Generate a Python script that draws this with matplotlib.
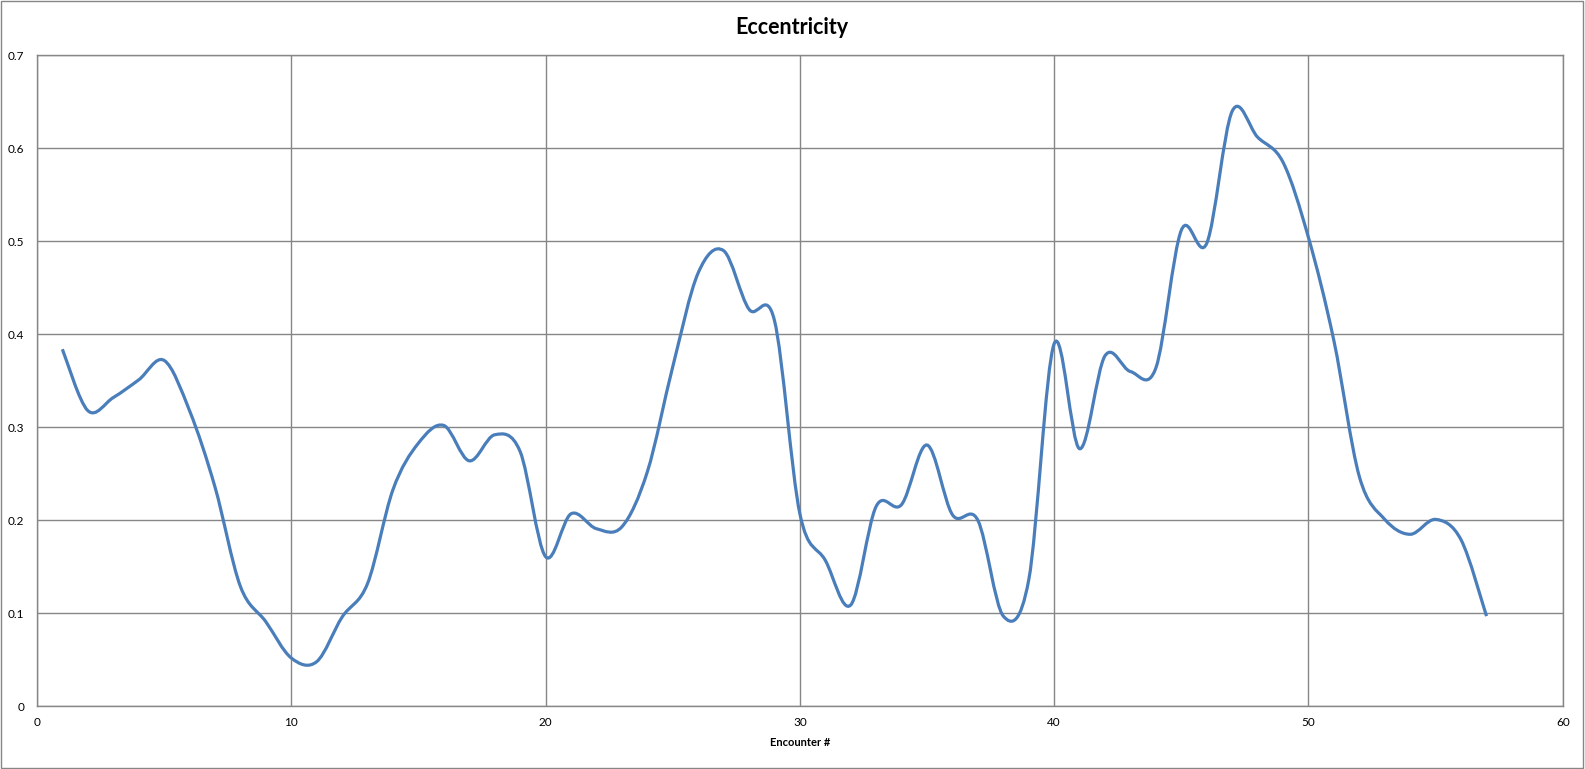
import numpy as np
import matplotlib.pyplot as plt
from matplotlib.path import Path
from matplotlib.patches import PathPatch, Rectangle

plt.rcParams['font.family'] = ['Lato', 'DejaVu Sans']

# encounter number and eccentricity
encounter = list(range(1, 58))
eccentricity = [
    0.384, 0.318, 0.332, 0.351, 0.372, 0.318, 0.236, 0.129, 0.091, 0.052,
    0.048, 0.096, 0.132, 0.233, 0.283, 0.302, 0.264, 0.292, 0.274, 0.161,
    0.207, 0.191, 0.193, 0.252, 0.365, 0.466, 0.490, 0.427, 0.415, 0.207,
    0.157, 0.109, 0.215, 0.217, 0.281, 0.206, 0.200, 0.097, 0.136, 0.390,
    0.277, 0.377, 0.360, 0.364, 0.512, 0.498, 0.640, 0.612, 0.585, 0.504,
    0.393, 0.247, 0.201, 0.185, 0.201, 0.179, 0.097,
]
x_ticks = [0, 10, 20, 30, 40, 50, 60]
y_ticks = [0, 0.1, 0.2, 0.3, 0.4, 0.5, 0.6, 0.7]
y_tick_labels = ["0", "0.1", "0.2", "0.3", "0.4", "0.5", "0.6", "0.7"]

GRID = "#868686"
LINE = "#4A7EBB"


def smooth_path(xs, ys):
    # Excel-style smoothed line: cubic Bezier segments, Catmull-Rom control points
    pts = np.column_stack([xs, ys]).astype(float)
    n = len(pts)
    verts = [pts[0]]
    codes = [Path.MOVETO]
    for i in range(n - 1):
        p0 = pts[i - 1] if i > 0 else pts[i]
        p1 = pts[i]
        p2 = pts[i + 1]
        p3 = pts[i + 2] if i + 2 < n else pts[i + 1]
        c1 = p1 + (p2 - p0) / 6.0
        c2 = p2 - (p3 - p1) / 6.0
        verts += [c1, c2, p2]
        codes += [Path.CURVE4] * 3
    return Path(verts, codes)


fig = plt.figure(figsize=(15.85, 7.69), dpi=100)
ax = fig.add_axes([0.0233, 0.0815, 0.9627, 0.8465])

ax.add_patch(PathPatch(smooth_path(encounter, eccentricity), facecolor="none",
                       edgecolor=LINE, lw=2.3, capstyle="butt", zorder=3))

ax.set_xlim(0, 60)
ax.set_ylim(0, 0.7)
ax.set_xticks(x_ticks)
ax.set_yticks(y_ticks)
ax.set_yticklabels(y_tick_labels)
ax.tick_params(length=0, labelsize=8.5, pad=9)
ax.tick_params(axis="x", pad=8)
ax.grid(True, color=GRID, lw=1.0)
ax.set_axisbelow(True)
for s in ax.spines.values():
    s.set_color(GRID)
    s.set_linewidth(1.0)

ax.set_xlabel("Encounter #", fontsize=8, fontweight="bold", labelpad=6)
fig.text(0.4995, 0.964, "Eccentricity", ha="center", va="center",
         fontsize=15.5, fontweight="bold")

# chart area border
fig.patches.append(Rectangle((0.0005, 0.001), 0.998, 0.998, transform=fig.transFigure,
                             fill=False, edgecolor=GRID, lw=1.0))

fig.savefig("out.png", dpi=100)
